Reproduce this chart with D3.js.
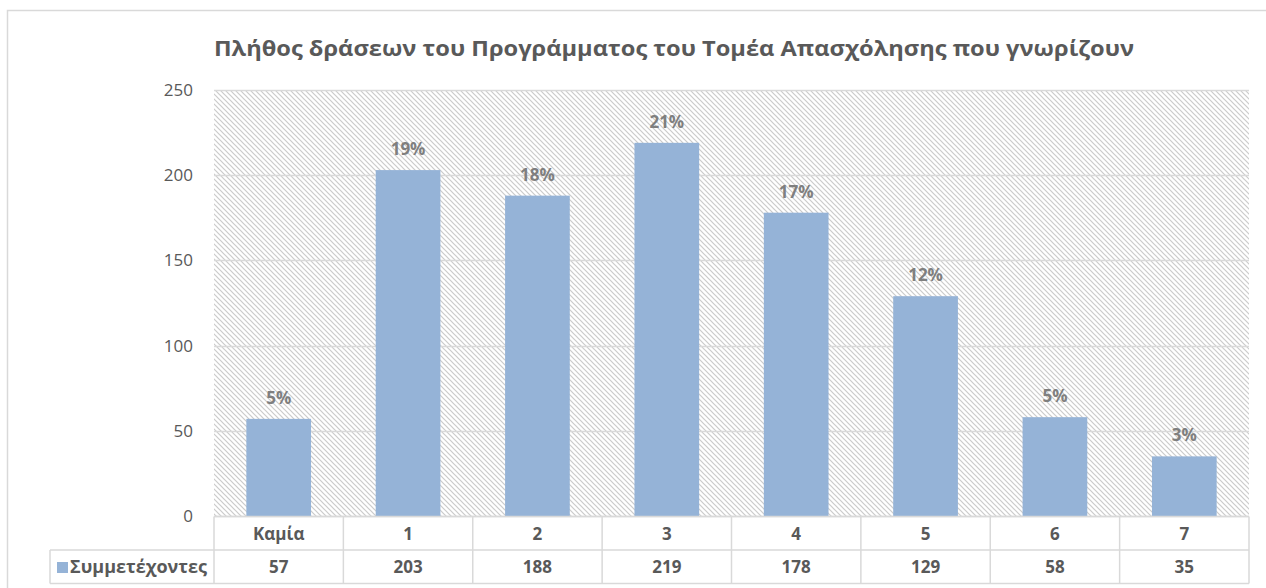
<html>
<head>
  <meta charset="utf-8">
  <title>Πλήθος δράσεων</title>
  <script src="https://d3js.org/d3.v7.min.js"></script>
  <style>
    body { margin: 0; background: #fff; }
    text { font-family: "Open Sans", "Noto Sans", sans-serif; }
  </style>
</head>
<body>
<script>

var categories = ["Καμία", "1", "2", "3", "4", "5", "6", "7"];
var values = [57, 203, 188, 219, 178, 129, 58, 35];
var seriesName = "Συμμετέχοντες";
var yTicks = [0, 50, 100, 150, 200, 250];
var title = "Πλήθος δράσεων του Προγράμματος του Τομέα Απασχόλησης που γνωρίζουν";

var width = 1266,
    height = 588;

var plot = {left: 214, right: 1249, top: 90, bottom: 516};
var rowH = 33.5;
var legendLeft = 50;

var total = d3.sum(values);

var svg = d3.select("body").append("svg")
    .attr("width", width)
    .attr("height", height);

// hatch fill for the plot area
var defs = svg.append("defs");
var pat = defs.append("pattern")
    .attr("id", "hatch")
    .attr("patternUnits", "userSpaceOnUse")
    .attr("width", 5)
    .attr("height", 5);
pat.append("rect").attr("width", 5).attr("height", 5).attr("fill", "#fff");
pat.append("path")
    .attr("d", "M-1,-1 L6,6 M-1,4 L1,6 M4,-1 L6,1")
    .attr("stroke", "#cbcbcb")
    .attr("stroke-width", 1.2);

// outer chart border
svg.append("rect")
    .attr("x", 7.5).attr("y", 10.5)
    .attr("width", 1265).attr("height", 600)
    .attr("fill", "none")
    .attr("stroke", "#d9d9d9")
    .attr("stroke-width", 1.5);

var x = d3.scaleBand()
    .domain(categories)
    .range([plot.left, plot.right])
    .paddingInner(0.5)
    .paddingOuter(0.25);

var y = d3.scaleLinear()
    .domain([0, 250])
    .range([plot.bottom, plot.top]);

svg.append("rect")
    .attr("x", plot.left).attr("y", plot.top)
    .attr("width", plot.right - plot.left)
    .attr("height", plot.bottom - plot.top)
    .attr("fill", "url(#hatch)");

// gridlines
svg.append("g")
  .selectAll("line")
  .data(yTicks)
  .enter().append("line")
    .attr("x1", plot.left).attr("x2", plot.right)
    .attr("y1", function(d) { return Math.round(y(d)) + 0.5; })
    .attr("y2", function(d) { return Math.round(y(d)) + 0.5; })
    .attr("stroke", "#d9d9d9")
    .attr("stroke-width", 1.5);

// y axis labels
var yAxis = svg.append("g")
    .attr("transform", "translate(" + plot.left + ",0)")
    .call(d3.axisLeft(y).tickValues(yTicks).tickSize(0).tickPadding(21));
yAxis.select(".domain").remove();
yAxis.selectAll("text")
    .attr("fill", "#595959")
    .style("font-size", "17px")
    .style("font-family", "'Open Sans', sans-serif");

// bars
svg.append("g")
  .selectAll("rect")
  .data(values)
  .enter().append("rect")
    .attr("x", function(d, i) { return x(categories[i]); })
    .attr("y", function(d) { return y(d); })
    .attr("width", x.bandwidth())
    .attr("height", function(d) { return y(0) - y(d); })
    .attr("fill", "#95b3d7");

// percent labels
svg.append("g")
  .selectAll("text")
  .data(values)
  .enter().append("text")
    .attr("x", function(d, i) { return x(categories[i]) + x.bandwidth() / 2; })
    .attr("y", function(d) { return y(d) - 15; })
    .attr("text-anchor", "middle")
    .attr("fill", "#7f7f7f")
    .style("font-size", "17px")
    .style("font-weight", "bold")
    .text(function(d) { return Math.round(d / total * 100) + "%"; });

// title
svg.append("text")
    .attr("x", 674)
    .attr("y", 56)
    .attr("text-anchor", "middle")
    .attr("fill", "#595959")
    .attr("textLength", 920)
    .attr("lengthAdjust", "spacingAndGlyphs")
    .style("font-size", "21px")
    .style("font-weight", "bold")
    .text(title);

// data table
var step = x.step();
var tbl = svg.append("g");
var gridColor = "#d9d9d9";

function hline(x1, x2, yy) {
  tbl.append("line").attr("x1", x1).attr("x2", x2).attr("y1", yy).attr("y2", yy)
     .attr("stroke", gridColor).attr("stroke-width", 1.5);
}
function vline(xx, y1, y2) {
  tbl.append("line").attr("x1", xx).attr("x2", xx).attr("y1", y1).attr("y2", y2)
     .attr("stroke", gridColor).attr("stroke-width", 1.5);
}

var r0 = plot.bottom + 0.5, r1 = r0 + rowH, r2 = r1 + rowH;
hline(plot.left, plot.right, r0);
hline(legendLeft, plot.right, r1);
hline(legendLeft, plot.right, r2);
vline(legendLeft, r1, r2);
categories.forEach(function(c, i) {
  vline(plot.left + i * step, r0, r2);
});
vline(plot.right, r0, r2);

tbl.selectAll(".cat")
  .data(categories)
  .enter().append("text")
    .attr("class", "cat")
    .attr("x", function(d) { return x(d) + x.bandwidth() / 2; })
    .attr("y", r0 + 23)
    .attr("text-anchor", "middle")
    .attr("fill", "#595959")
    .style("font-size", "17px")
    .style("font-weight", "bold")
    .text(function(d) { return d; });

tbl.selectAll(".val")
  .data(values)
  .enter().append("text")
    .attr("class", "val")
    .attr("x", function(d, i) { return x(categories[i]) + x.bandwidth() / 2; })
    .attr("y", r1 + 23)
    .attr("text-anchor", "middle")
    .attr("fill", "#595959")
    .style("font-size", "17px")
    .style("font-weight", "bold")
    .text(function(d) { return d; });

// legend key
tbl.append("rect")
    .attr("x", 57).attr("y", r1 + 12)
    .attr("width", 11).attr("height", 11)
    .attr("fill", "#95b3d7");
tbl.append("text")
    .attr("x", 70)
    .attr("y", r1 + 23)
    .attr("fill", "#595959")
    .attr("textLength", 137)
    .attr("lengthAdjust", "spacingAndGlyphs")
    .style("font-size", "17px")
    .style("font-weight", "bold")
    .text(seriesName);

</script>
</body>
</html>
